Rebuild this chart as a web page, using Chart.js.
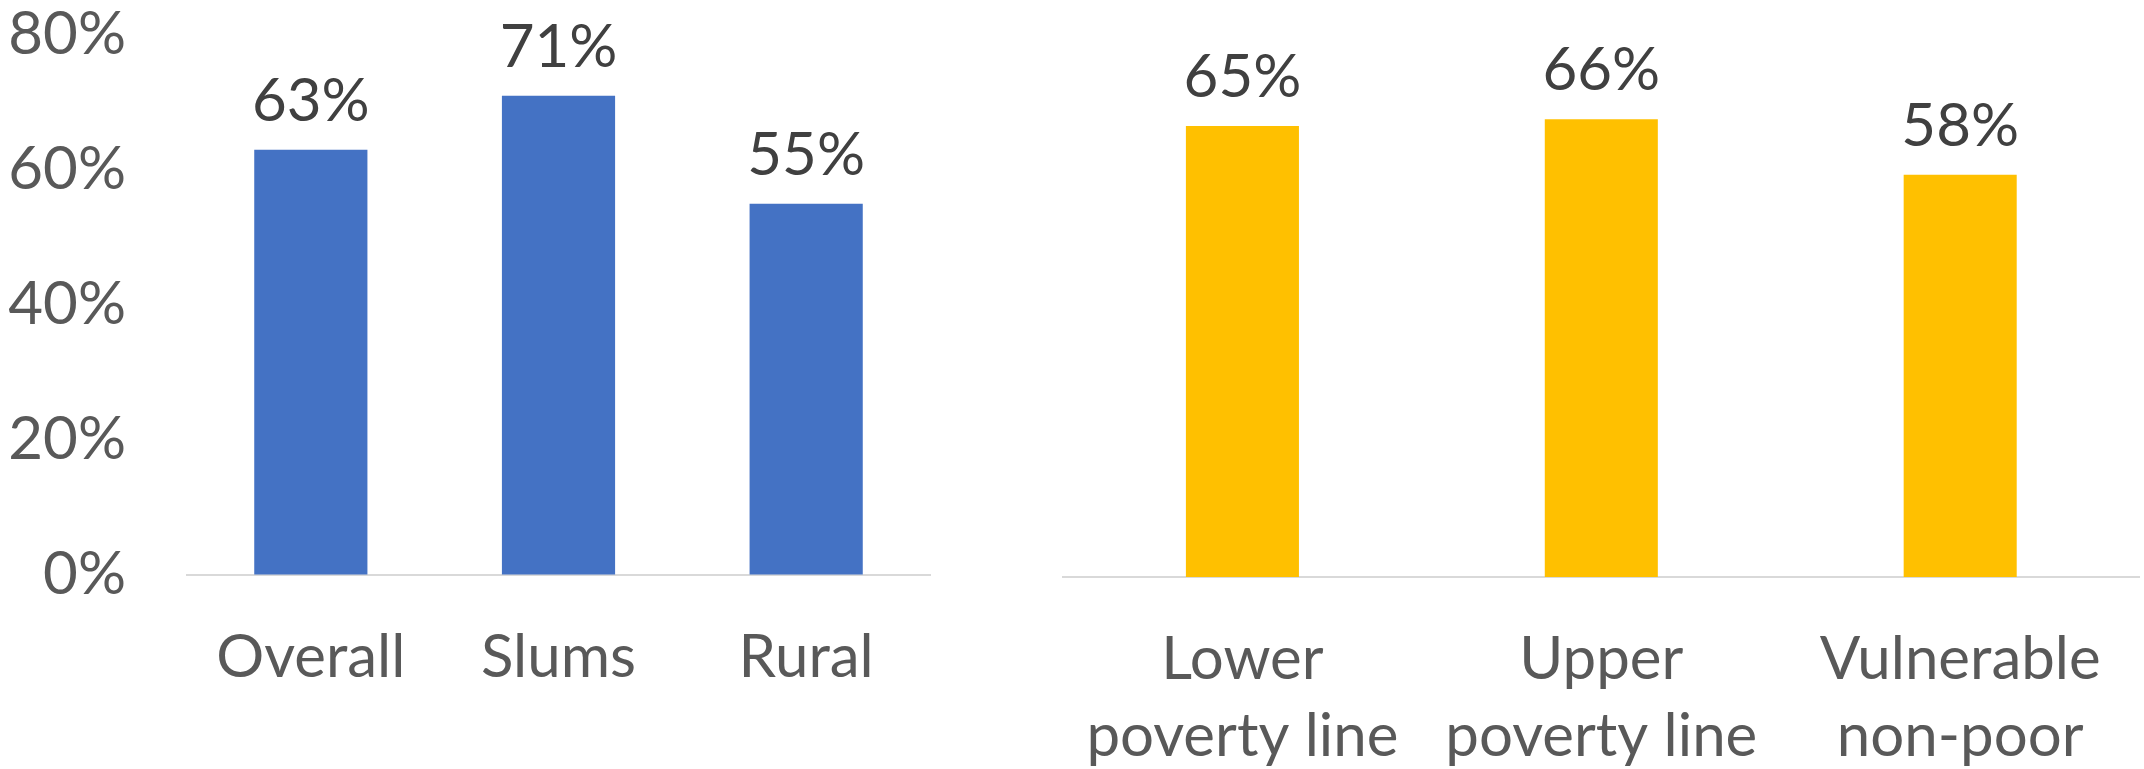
<!DOCTYPE html>
<html lang="en">

<head>
  <meta charset="UTF-8" />
  <title>Share by group</title>
  <script src="https://cdn.jsdelivr.net/npm/chart.js@4.4.0/dist/chart.umd.min.js"></script>
  <style>
    html, body { margin: 0; padding: 0; background: #fff; }
    .box { position: absolute; top: 0; height: 769px; }
    #leftBox { left: 0; width: 960px; }
    #rightBox { left: 1040px; width: 1104px; }
  </style>
</head>

<body>
  <div id="leftBox" class="box"><canvas id="areaChart"></canvas></div>
  <div id="rightBox" class="box"><canvas id="povertyChart"></canvas></div>

  <script>
    // data
    const areaLabels = ["Overall", "Slums", "Rural"];
    const areaValues = [63, 71, 55];
    const povertyLabels = [["Lower", "poverty line"], ["Upper", "poverty line"], ["Vulnerable", "non-poor"]];
    const povertyValues = [65, 66, 58];
    const yTickValues = [0, 20, 40, 60, 80];

    const FONT = "Lato";
    const tickFont = { family: FONT, size: 60, lineHeight: 1.28 };

    // draws the % above every bar
    const valueLabels = {
      id: "valueLabels",
      afterDatasetsDraw(chart) {
        const ctx = chart.ctx;
        ctx.save();
        ctx.font = "60px " + FONT;
        ctx.fillStyle = "#404040";
        ctx.textAlign = "center";
        ctx.textBaseline = "alphabetic";
        chart.data.datasets.forEach((ds, i) => {
          chart.getDatasetMeta(i).data.forEach((bar, j) => {
            ctx.fillText(ds.data[j] + "%", bar.x, bar.y - 29);
          });
        });
        ctx.restore();
      }
    };

    function xAxis(height) {
      return {
        grid: { display: false, drawTicks: false },
        border: { display: true, color: "#d9d9d9", width: 2 },
        ticks: { color: "#595959", font: tickFont, padding: 44, maxRotation: 0, autoSkip: false },
        afterFit: (scale) => { scale.height = height; }
      };
    }

    const areaChart = new Chart(document.getElementById("areaChart"), {
      type: "bar",
      data: {
        labels: areaLabels,
        datasets: [{
          data: areaValues,
          backgroundColor: "#4472C4",
          categoryPercentage: 1,
          barPercentage: 0.457
        }]
      },
      options: {
        responsive: true,
        maintainAspectRatio: false,
        animation: false,
        layout: { padding: { top: 35, right: 30, left: 0, bottom: 0 } },
        plugins: { legend: { display: false }, tooltip: { enabled: false } },
        scales: {
          x: xAxis(194),
          y: {
            min: 0,
            max: 80,
            afterBuildTicks: (scale) => { scale.ticks = yTickValues.map(v => ({ value: v })); },
            // invisible tick marks push the labels away from the bars
            grid: { display: true, drawOnChartArea: false, drawTicks: true, tickLength: 61, color: "rgba(0,0,0,0)" },
            border: { display: false },
            ticks: {
              color: "#595959",
              font: { family: FONT, size: 60, lineHeight: 1 },
              padding: 0,
              callback: (v) => v + "%"
            },
            afterFit: (scale) => { scale.width = 187; }
          }
        }
      },
      plugins: [valueLabels]
    });

    const povertyChart = new Chart(document.getElementById("povertyChart"), {
      type: "bar",
      data: {
        labels: povertyLabels,
        datasets: [{
          data: povertyValues,
          backgroundColor: "#FFC000",
          categoryPercentage: 1,
          barPercentage: 0.315
        }]
      },
      options: {
        responsive: true,
        maintainAspectRatio: false,
        animation: false,
        layout: { padding: { top: 22, right: 0, left: 19, bottom: 0 } },
        plugins: { legend: { display: false }, tooltip: { enabled: false } },
        scales: {
          x: xAxis(192),
          y: { display: false, min: 0, max: 80 }
        }
      },
      plugins: [valueLabels]
    });
  </script>
</body>

</html>
